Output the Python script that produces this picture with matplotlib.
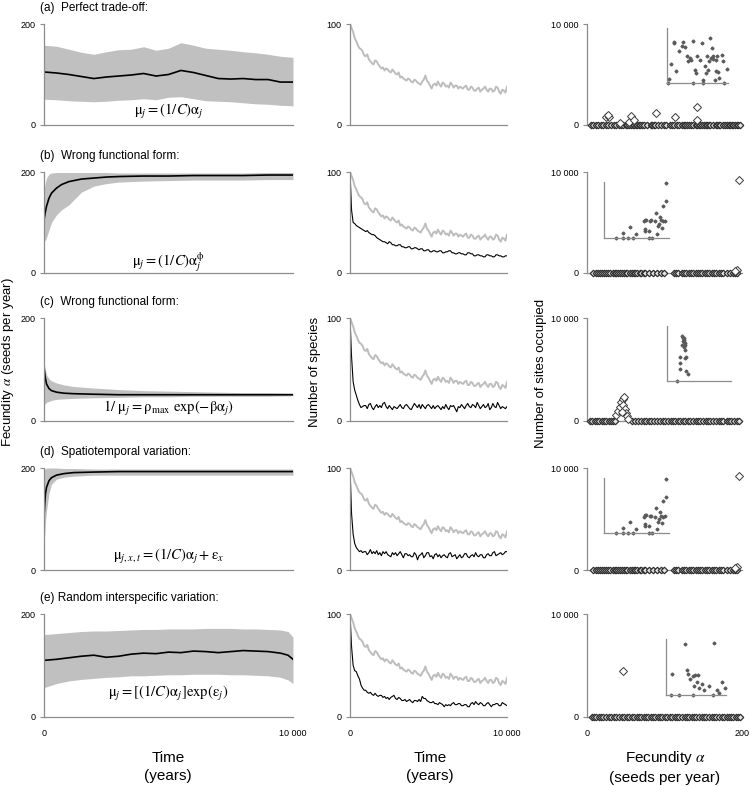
import numpy as np
import matplotlib
matplotlib.use('Agg')
import matplotlib.pyplot as plt

plt.rcParams['font.family'] = ['Liberation Sans', 'DejaVu Sans']
plt.rcParams['mathtext.fontset'] = 'stix'

# =-=-=-=-=-=-=-=-=-=-=-=-=-=-=-=-=-=-=-=-=-=-=-=-=-=-=-=-=-=-=-=-=-=-=-=-
# dados - coluna 1 (fecundidade media +- faixa)
# =-=-=-=-=-=-=-=-=-=-=-=-=-=-=-=-=-=-=-=-=-=-=-=-=-=-=-=-=-=-=-=-=-=-=-=-
t_a = [0, 500, 1000, 1500, 2000, 2500, 3000, 3500, 4000, 4500, 5000,
       5500, 6000, 6500, 7000, 7500, 8000, 8500, 9000, 9500, 10000]
media_a = [105, 103, 100, 96, 92, 95, 97, 99, 102, 97, 100,
           108, 104, 98, 92, 91, 92, 90, 90, 85, 85]
sup_a = [158, 156, 150, 144, 140, 145, 149, 150, 155, 148, 152,
         163, 158, 152, 150, 148, 145, 143, 140, 136, 134]
inf_a = [51, 50, 48, 47, 46, 47, 49, 50, 52, 50, 55,
         56, 52, 48, 47, 46, 44, 42, 41, 39, 38]

t_b = [0, 50, 100, 200, 300, 500, 700, 1000, 1500, 2000, 2500, 3000,
       4000, 5000, 6000, 7000, 8000, 9000, 10000]
media_b = [105, 120, 132, 148, 158, 168, 175, 181, 186, 188, 190, 191,
           192, 192, 193, 193, 193, 194, 194]
sup_b = [165, 178, 188, 196, 198, 199, 199, 199, 199, 199, 199, 198,
         198, 198, 198, 198, 198, 199, 199]
inf_b = [62, 65, 70, 85, 100, 115, 125, 135, 160, 172, 177, 180,
         182, 183, 184, 184, 184, 185, 185]

t_c = [0, 50, 100, 200, 300, 500, 800, 1200, 2000, 3000, 4000, 5000,
       6000, 7000, 8000, 9000, 10000]
media_c = [105, 85, 72, 63, 59, 56, 54, 53, 52, 51, 51, 51, 51, 51, 51, 51, 51]
sup_c = [115, 100, 90, 82, 78, 74, 70, 67, 64, 61, 59, 58, 57, 56, 55, 55, 54]
inf_c = [30, 34, 36, 38, 40, 42, 43, 44, 45, 46, 47, 47, 48, 48, 48, 48, 49]

t_d = [0, 30, 60, 100, 200, 300, 500, 800, 1200, 2000, 3000, 5000, 7000, 10000]
media_d = [105, 130, 150, 162, 175, 181, 186, 189, 191, 192, 193, 193, 193, 193]
sup_d = [195, 198, 199, 200, 200, 200, 200, 199, 199, 198, 198, 198, 198, 198]
inf_d = [55, 70, 95, 115, 150, 168, 178, 182, 184, 186, 186, 186, 186, 186]

t_e = [0, 500, 1000, 1500, 2000, 2500, 3000, 3500, 4000, 4500, 5000, 5500,
       6000, 6500, 7000, 7500, 8000, 8500, 9000, 9500, 9800, 10000]
media_e = [110, 112, 115, 118, 120, 116, 118, 122, 124, 123, 126, 125,
           128, 127, 125, 127, 129, 128, 127, 124, 120, 112]
sup_e = [160, 162, 164, 166, 167, 167, 168, 169, 170, 170, 171, 171,
         171, 172, 172, 172, 171, 171, 170, 169, 166, 155]
inf_e = [57, 65, 70, 73, 75, 77, 78, 80, 80, 81, 82, 82,
         83, 83, 83, 82, 82, 81, 80, 77, 72, 65]

# =-=-=-=-=-=-=-=-=-=-=-=-=-=-=-=-=-=-=-=-=-=-=-=-=-=-=-=-=-=-=-=-=-=-=-=-
# dados - coluna 2 (numero de especies), um valor a cada 100 anos
# =-=-=-=-=-=-=-=-=-=-=-=-=-=-=-=-=-=-=-=-=-=-=-=-=-=-=-=-=-=-=-=-=-=-=-=-
t_esp = list(range(0, 10001, 100))

esp_cinza = [100, 96, 92, 86, 83, 79, 76, 75, 73, 69,
             68, 70, 65, 63, 61, 60, 64, 63, 60, 58,
             56, 57, 54, 56, 55, 53, 52, 55, 53, 51,
             50, 52, 47, 48, 46, 45, 44, 46, 45, 43,
             42, 45, 44, 42, 41, 40, 43, 45, 49, 44,
             42, 39, 36, 40, 41, 39, 43, 40, 38, 42,
             41, 38, 39, 37, 42, 40, 37, 39, 39, 36,
             38, 37, 36, 38, 39, 35, 35, 38, 37, 34,
             34, 36, 37, 33, 35, 36, 38, 35, 33, 36,
             36, 33, 34, 38, 37, 33, 31, 35, 34, 32,
             38]
esp_b = [100, 62, 50, 49, 47, 46, 45, 44, 43, 42,
         41, 42, 40, 39, 38, 38, 37, 35, 34, 33,
         32, 31, 31, 30, 29, 31, 30, 28, 28, 27,
         27, 28, 28, 26, 26, 25, 25, 26, 26, 24,
         24, 25, 25, 24, 23, 24, 24, 22, 22, 23,
         23, 21, 21, 22, 22, 21, 21, 22, 22, 20,
         20, 21, 21, 22, 22, 20, 20, 19, 19, 20,
         20, 19, 19, 18, 18, 20, 20, 19, 19, 17,
         17, 18, 18, 17, 17, 16, 16, 18, 18, 17,
         17, 16, 16, 18, 18, 17, 17, 16, 16, 17,
         17]
esp_c = [100, 62, 38, 30, 25, 20, 16, 13, 14, 15,
         15, 12, 16, 17, 13, 11, 14, 16, 13, 15,
         13, 17, 18, 14, 12, 15, 13, 11, 14, 13,
         12, 14, 16, 13, 12, 15, 16, 14, 12, 11,
         14, 17, 15, 13, 16, 12, 16, 14, 12, 15,
         16, 14, 12, 15, 12, 14, 15, 13, 11, 14,
         12, 16, 13, 11, 15, 14, 15, 12, 9, 14,
         13, 16, 14, 12, 15, 17, 14, 13, 16, 15,
         13, 18, 15, 12, 14, 16, 13, 14, 17, 11,
         13, 17, 14, 13, 18, 15, 12, 14, 13, 12,
         14]
esp_d = [100, 55, 35, 26, 22, 20, 18, 19, 17, 18,
         18, 15, 17, 20, 16, 18, 16, 19, 15, 17,
         14, 18, 16, 18, 15, 14, 13, 17, 15, 17,
         14, 16, 18, 15, 12, 16, 16, 14, 15, 13,
         13, 17, 15, 10, 14, 15, 17, 12, 14, 17,
         17, 13, 14, 11, 15, 16, 13, 15, 12, 14,
         15, 13, 12, 16, 17, 13, 14, 15, 11, 13,
         15, 12, 13, 16, 16, 13, 12, 14, 15, 13,
         17, 14, 13, 15, 15, 12, 12, 15, 16, 14,
         14, 17, 18, 14, 15, 16, 17, 15, 16, 18,
         18]
esp_e = [100, 68, 50, 45, 44, 40, 37, 31, 28, 26,
         26, 24, 23, 24, 22, 21, 23, 21, 20, 21,
         21, 19, 20, 18, 19, 17, 19, 20, 21, 18,
         17, 19, 18, 16, 16, 17, 15, 16, 17, 15,
         14, 16, 16, 15, 17, 15, 20, 18, 18, 16,
         15, 14, 14, 15, 13, 13, 12, 14, 13, 12,
         10, 12, 11, 12, 11, 13, 14, 12, 12, 13,
         13, 11, 11, 12, 12, 10, 10, 13, 14, 12,
         15, 13, 12, 14, 13, 11, 11, 13, 14, 12,
         10, 12, 12, 13, 13, 11, 11, 14, 13, 12,
         11]

# =-=-=-=-=-=-=-=-=-=-=-=-=-=-=-=-=-=-=-=-=-=-=-=-=-=-=-=-=-=-=-=-=-=-=-=-
# dados - coluna 3 (sitios ocupados x fecundidade)
# =-=-=-=-=-=-=-=-=-=-=-=-=-=-=-=-=-=-=-=-=-=-=-=-=-=-=-=-=-=-=-=-=-=-=-=-
zeros_a = [5, 8, 12, 14, 18, 21, 24, 27, 31, 35, 38, 41, 44, 47, 50, 52, 54,
           57, 59, 61, 63, 65, 67, 69, 71, 74, 78, 82, 84, 87, 88, 91, 95, 99,
           102, 107, 110, 112, 116, 119, 123, 125, 127, 129, 131, 134, 137,
           140, 142, 144, 146, 149, 151, 153, 155, 157, 159, 162, 166, 168,
           170, 172, 175, 178, 181, 183, 185, 187, 189, 191, 193, 195, 197]
fec_a = [24, 29, 27, 42, 54, 57, 61, 89, 114, 142, 142]
sit_a = [825, 760, 990, 230, 330, 890, 495, 1155, 760, 1815, 495]

zeros_b = [8, 11, 14, 17, 19, 22, 25, 27, 30, 33, 36, 38, 40, 42, 45, 48,
           50, 52, 55, 58, 60, 62, 65, 68, 70, 73, 75, 80, 85, 90, 96, 99,
           112, 115, 118, 122, 125, 128, 131, 134, 137, 140, 143, 146, 149,
           152, 155, 158, 161, 164, 167, 170, 173, 176, 180, 184, 188, 191, 193]
fec_b = [196, 194, 191]
sit_b = [9200, 300, 150]

zeros_c = [4, 7, 10, 13, 16, 19, 22, 25, 28, 31, 34, 36, 58, 62, 66, 70,
           73, 76, 80, 83, 86, 90, 94, 98, 101, 104, 108, 111, 114, 117,
           120, 124, 127, 130, 133, 137, 140, 143, 146, 150, 153, 156, 159,
           163, 166, 170, 173, 176, 180, 183, 186, 190, 193, 196]
fec_c = [37, 40, 42, 44, 46, 47, 49, 50, 52, 53, 48, 45]
sit_c = [600, 1000, 1400, 1800, 2100, 1600, 1200, 800, 450, 200, 2300, 900]

zeros_e = [6, 9, 12, 15, 18, 21, 25, 28, 31, 35, 38, 41, 45, 48, 51, 54,
           58, 61, 64, 67, 70, 73, 76, 79, 82, 85, 88, 91, 94, 97, 100, 103,
           107, 110, 113, 116, 119, 122, 126, 129, 132, 135, 138, 141, 145,
           148, 151, 154, 158, 161, 164, 167, 170, 174, 177, 180, 183, 186,
           189, 192, 195, 197]
fec_e = [46]
sit_e = [4470]

# insets (escala relativa 0-100)
ins_x_a = [2.7, 6.5, 10.8, 11.9, 15.1, 18.9, 24.3, 27, 29.7, 32.4, 35.1, 37.8,
           38.9, 43.2, 45.9, 47.6, 48.6, 54, 56.8, 59.5, 62.2, 63.8, 64.9,
           67.6, 69.2, 70.3, 71.4, 73, 74.6, 75.7, 78.4, 80, 81, 82.2, 83.8,
           85.4, 90.8, 91.9, 98.4, 2, 43, 59, 94]
ins_y_a = [7.3, 35, 74, 72.7, 21, 59, 66.7, 74, 64.8, 48.5, 39.4, 45.5,
           42.4, 75.8, 24.2, 18.2, 48.5, 41.2, 72.7, 6, 30.3, 18.2, 49.7,
           24.2, 39.4, 81.8, 45.5, 63.6, 43.6, 49.7, 6, 41.2, 21.2, 49.7,
           19.4, 9.1, 51.5, 39.4, 25.5, 0, 0, 0, 0]

ins_x_b = [19, 29.2, 36.9, 44.6, 69.2, 74.4, 29.2, 39.5, 48.7, 61, 62.6,
           64.1, 63.6, 69.2, 72.8, 77.9, 80.5, 81.5, 83.1, 84.6, 86.7, 88.2,
           89.7, 90.8, 93.3, 94.9, 95.9, 90.8, 62.6, 70.3]
ins_y_b = [0, 0, 0, 0, 0, 0, 8.9, 19.6, 7.7, 29.8, 32.7, 32.7, 16.1, 12.5,
           31.5, 29.8, 44.6, 7.7, 20.8, 25.6, 37.5, 31.5, 17.9, 29.8, 31,
           65.5, 98.2, 57.7, 13.1, 31]

ins_x_c = [15.6, 23.4, 24.5, 26, 27.1, 25, 27.6, 28.6, 27.1, 28.6, 20.8,
           19.8, 19.8, 27.6, 30.2, 29.7, 32.3, 26, 24]
ins_y_c = [0, 81.8, 77.6, 74.5, 71.5, 73.3, 69.7, 65.5, 61.2, 56.4, 43,
           33.3, 22.4, 41.2, 43, 18.8, 12.1, 77.6, 65.5]

ins_x_e = [8.9, 22.2, 44.4, 77.8, 9.6, 31.1, 34.8, 40.7, 44.4, 45.9, 48.1,
           51.9, 55.6, 59.3, 63, 71.9, 79.3, 85.2, 88.9, 94.1, 97.8, 37, 53.3]
ins_y_e = [0, 0, 0, 0, 37.7, 91, 44.9, 28.1, 34.1, 16.2, 35.9, 24, 13.2,
           19.2, 9, 16.8, 92.8, 9, 3, 22.8, 12, 37.1, 36.5]

titulos = ['(a)  Perfect trade-off:', '(b)  Wrong functional form:',
           '(c)  Wrong functional form:', '(d)  Spatiotemporal variation:',
           '(e) Random interspecific variation:']
equacoes = [r'$\mathrm{\mu}_j = (1/C)\mathrm{\alpha}_j$',
            r'$\mathrm{\mu}_j = (1/C)\mathrm{\alpha}_j^{\mathrm{\phi}}$',
            r'$1/\ \mathrm{\mu}_j = \mathrm{\rho}_{\mathrm{max}}\ \mathrm{exp}(-\mathrm{\beta\alpha}_j)$',
            r'$\mathrm{\mu}_{j,x,t} = (1/C)\mathrm{\alpha}_j + \mathrm{\varepsilon}_x$',
            r'$\mathrm{\mu}_j = [(1/C)\mathrm{\alpha}_j]\mathrm{exp}(\mathrm{\varepsilon}_j)$']

# =-=-=-=-=-=-=-=-=-=-=-=-=-=-=-=-=-=-=-=-=-=-=-=-=-=-=-=-=-=-=-=-=-=-=-=-
# layout
# =-=-=-=-=-=-=-=-=-=-=-=-=-=-=-=-=-=-=-=-=-=-=-=-=-=-=-=-=-=-=-=-=-=-=-=-
W, H = 750, 786
fig = plt.figure(figsize=(7.5, 7.86), dpi=100)

def caixa(x0, x1, y0, y1):
    return [x0 / W, 1 - y1 / H, (x1 - x0) / W, (y1 - y0) / H]

def estilo(ax):
    for s in ['top', 'right']:
        ax.spines[s].set_visible(False)
    for s in ['left', 'bottom']:
        ax.spines[s].set_color('#8c8c8c')
        ax.spines[s].set_linewidth(0.9)
    ax.tick_params(axis='y', length=3, width=0.8, color='#8c8c8c',
                   labelsize=6.5, pad=3)
    ax.tick_params(axis='x', length=0, labelsize=6.5, pad=9)

cols = [(44, 293), (350, 507), (587, 742)]
linhas = [(24, 125), (172, 273), (318, 421), (468, 570), (614, 717)]
insets = [(667, 728, 28, 83), (604, 669, 182, 238), (667, 731, 326, 381),
          (604, 669, 478, 533), (666, 726, 639, 695)]

dados1 = [(t_a, media_a, sup_a, inf_a), (t_b, media_b, sup_b, inf_b),
          (t_c, media_c, sup_c, inf_c), (t_d, media_d, sup_d, inf_d),
          (t_e, media_e, sup_e, inf_e)]
dados2 = [None, esp_b, esp_c, esp_d, esp_e]
dados3 = [(zeros_a, fec_a, sit_a), (zeros_b, fec_b, sit_b),
          (zeros_c, fec_c, sit_c), (zeros_b, fec_b, sit_b),
          (zeros_e, fec_e, sit_e)]
dados_ins = [(ins_x_a, ins_y_a), (ins_x_b, ins_y_b), (ins_x_c, ins_y_c),
             (ins_x_b, ins_y_b), (ins_x_e, ins_y_e)]
eq_y = [0.13, 0.11, 0.12, 0.13, 0.23]

for i in range(5):
    y0, y1 = linhas[i]
    ultimo = (i == 4)

    # coluna 1
    ax1 = fig.add_axes(caixa(cols[0][0], cols[0][1], y0, y1))
    t, m, s, n = dados1[i]
    ax1.fill_between(t, n, s, color='#c0c0c0', lw=0)
    ax1.plot(t, m, color='black', lw=1.2)
    ax1.set_xlim(0, 10000)
    ax1.set_ylim(0, 200)
    ax1.set_yticks([0, 200])
    estilo(ax1)
    ax1.text(0.5, eq_y[i], equacoes[i], transform=ax1.transAxes,
             ha='center', va='center', fontsize=10.5)
    fig.text(40 / W, 1 - (y0 - 16) / H, titulos[i], fontsize=8.5,
             va='center', ha='left')

    # coluna 2
    ax2 = fig.add_axes(caixa(cols[1][0], cols[1][1], y0, y1))
    ax2.plot(t_esp, esp_cinza, color='#bdbdbd', lw=1.4)
    if dados2[i] is not None:
        ax2.plot(t_esp, dados2[i], color='black', lw=0.8)
    ax2.set_xlim(0, 10000)
    ax2.set_ylim(0, 100)
    ax2.set_yticks([0, 100])
    estilo(ax2)

    # coluna 3
    ax3 = fig.add_axes(caixa(cols[2][0], cols[2][1], y0, y1))
    zs, fx, fy = dados3[i]
    ax3.plot(zs, [0] * len(zs), 'D', ms=3.3, mfc='#e6e6e6', mec='#2e2e2e',
             mew=0.9, clip_on=False, zorder=3)
    ax3.plot(fx, fy, 'D', ms=4.5, mfc='white', mec='#3a3a3a', mew=0.7,
             clip_on=False, zorder=3)
    ax3.set_xlim(0, 200)
    ax3.set_ylim(0, 10000)
    ax3.set_yticks([0, 10000])
    ax3.set_yticklabels(['0', '10 000'])
    estilo(ax3)

    if ultimo:
        ax1.set_xticks([0, 10000])
        ax1.set_xticklabels(['0', '10 000'])
        ax2.set_xticks([0, 10000])
        ax2.set_xticklabels(['0', '10 000'])
        ax3.set_xticks([0, 200])
        ax3.set_xticklabels(['0', '200'])
    else:
        for ax in (ax1, ax2, ax3):
            ax.set_xticks([])

    # inset
    xi0, xi1, yi0, yi1 = insets[i]
    axi = fig.add_axes(caixa(xi0, xi1, yi0, yi1))
    ix, iy = dados_ins[i]
    axi.plot(ix, iy, 'D', ms=1.5, color='#5a5a5a', clip_on=False)
    axi.set_xlim(0, 100)
    axi.set_ylim(0, 100)
    axi.set_xticks([])
    axi.set_yticks([])
    axi.patch.set_alpha(0)
    estilo(axi)

# rotulos dos eixos
fig.text(8 / W, 1 - 362 / H, r'Fecundity $\alpha$ (seeds per year)',
         rotation=90, va='center', ha='center', fontsize=9.5)
fig.text(315 / W, 1 - 372 / H, 'Number of species', rotation=90,
         va='center', ha='center', fontsize=9.5)
fig.text(541 / W, 1 - 373 / H, 'Number of sites occupied', rotation=90,
         va='center', ha='center', fontsize=9.5)

fig.text(168 / W, 1 - 767 / H, 'Time\n(years)', ha='center', va='center',
         fontsize=11, linespacing=1.3)
fig.text(430 / W, 1 - 767 / H, 'Time\n(years)', ha='center', va='center',
         fontsize=11, linespacing=1.3)
fig.text(665 / W, 1 - 767 / H, 'Fecundity $\\alpha$\n(seeds per year)',
         ha='center', va='center', fontsize=11, linespacing=1.3)

fig.savefig('out.png', dpi=100)
